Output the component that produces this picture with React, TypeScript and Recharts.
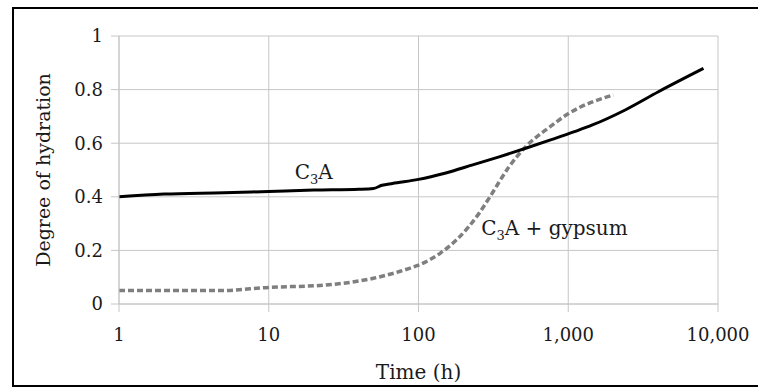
import React from "react";
import {
  CartesianGrid,
  Line,
  LineChart,
  ReferenceDot,
  XAxis,
  YAxis,
} from "recharts";

// hours / degree of hydration
const c3aHours = [1, 2, 5, 10, 20, 40, 50, 57, 67, 100, 150, 230, 350, 520, 780, 1100, 1450, 2400, 4000, 8000];
const c3aValues = [0.4, 0.41, 0.415, 0.42, 0.425, 0.428, 0.431, 0.443, 0.45, 0.465, 0.488, 0.519, 0.55, 0.581, 0.614, 0.643, 0.668, 0.724, 0.792, 0.879];

const gypsumHours = [1, 4.7, 10, 23, 50, 87, 100, 140, 180, 255, 300, 400, 520, 750, 1000, 2000];
const gypsumValues = [0.05, 0.05, 0.062, 0.07, 0.096, 0.133, 0.145, 0.19, 0.24, 0.34, 0.4, 0.51, 0.587, 0.66, 0.71, 0.78];

const xTicks = [1, 10, 100, 1000, 10000];
const yTicks = [0, 0.2, 0.4, 0.6, 0.8, 1];

const FONT = "'DejaVu Serif', serif";
const TEXT = "#1a1a1a";
const GRID = "#c6c6c6";

const c3aData = c3aHours.map((t, i) => ({ t, v: c3aValues[i] }));
const gypsumData = gypsumHours.map((t, i) => ({ t, v: gypsumValues[i] }));

const SubLabel = (props: any) => {
  const { cx, cy, text } = props;
  return (
    <text x={cx} y={cy} fontFamily={FONT} fontSize={20} fill={TEXT}>
      C
      <tspan fontSize={13} dy={5}>
        3
      </tspan>
      <tspan dy={-5}>{text}</tspan>
    </text>
  );
};

const App = (): JSX.Element => {
  return (
    <div
      style={{
        position: "absolute",
        left: 0,
        top: 0,
        width: 758,
        height: 388,
        overflow: "hidden",
        background: "#fff",
      }}
    >
      <div
        style={{
          position: "absolute",
          left: 12,
          top: 7,
          width: 780,
          height: 380,
          boxSizing: "border-box",
          border: "2px solid #000",
        }}
      />
      <div style={{ position: "absolute", left: 0, top: 0 }}>
        <LineChart
          width={758}
          height={388}
          margin={{ top: 36, right: 40, bottom: 34, left: 39 }}
        >
          <CartesianGrid stroke={GRID} strokeWidth={1} />
          <XAxis
            dataKey="t"
            type="number"
            scale="log"
            domain={[1, 10000]}
            ticks={xTicks}
            allowDataOverflow
            height={50}
            tickSize={8}
            tickMargin={16}
            stroke={GRID}
            tickFormatter={(v: number) => v.toLocaleString("en-US")}
            tick={{ fontFamily: FONT, fontSize: 18, fill: TEXT }}
            label={(p: any) => {
              const vb = p.viewBox;
              return (
                <text
                  x={vb.x + vb.width / 2}
                  y={379}
                  textAnchor="middle"
                  fontFamily={FONT}
                  fontSize={20}
                  fill={TEXT}
                >
                  Time (h)
                </text>
              );
            }}
          />
          <YAxis
            type="number"
            domain={[0, 1]}
            ticks={yTicks}
            width={80}
            tickSize={8}
            tickMargin={8}
            stroke={GRID}
            tick={{ fontFamily: FONT, fontSize: 18, fill: TEXT }}
            label={(p: any) => {
              const vb = p.viewBox;
              const cx = 43;
              const cy = vb.y + vb.height / 2;
              return (
                <text
                  x={cx}
                  y={cy}
                  transform={`rotate(-90, ${cx}, ${cy})`}
                  textAnchor="middle"
                  dominantBaseline="central"
                  fontFamily={FONT}
                  fontSize={19}
                  fill={TEXT}
                >
                  Degree of hydration
                </text>
              );
            }}
          />
          <Line
            data={gypsumData}
            dataKey="v"
            type="monotone"
            stroke="#7f7f7f"
            strokeWidth={3.5}
            strokeDasharray="6 3"
            dot={false}
            activeDot={false}
            isAnimationActive={false}
          />
          <Line
            data={c3aData}
            dataKey="v"
            type="monotone"
            stroke="#000"
            strokeWidth={3}
            strokeLinejoin="round"
            dot={false}
            activeDot={false}
            isAnimationActive={false}
          />
          <ReferenceDot
            x={14.9}
            y={0.466}
            r={0}
            shape={(p: any) => <SubLabel {...p} text="A" />}
          />
          <ReferenceDot
            x={262}
            y={0.2556}
            r={0}
            shape={(p: any) => <SubLabel {...p} text="A + gypsum" />}
          />
        </LineChart>
      </div>
    </div>
  );
};

export default App;
